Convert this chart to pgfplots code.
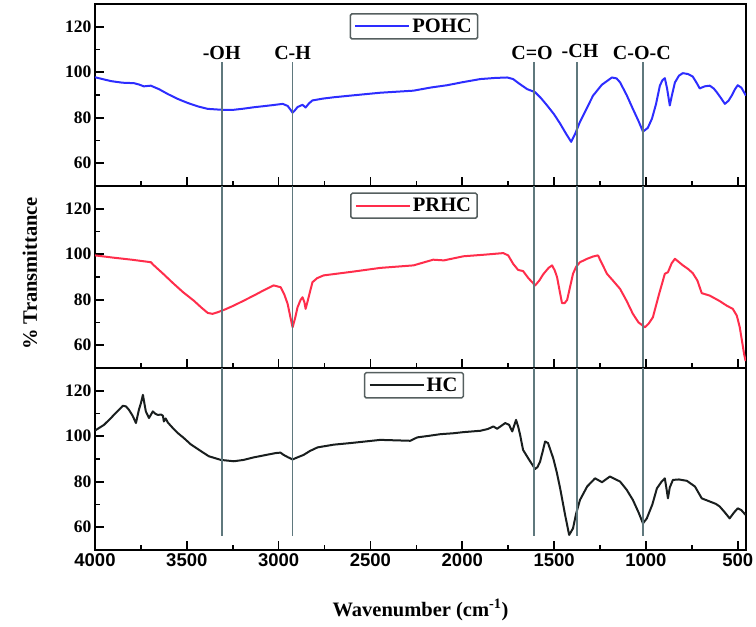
\documentclass[border=0pt]{standalone}
\usepackage{fontspec}
\setmainfont{Liberation Serif}
\newfontfamily\tsans{Liberation Sans}
\usepackage{pgfplots}
\pgfplotsset{compat=1.18}
\usepgfplotslibrary{groupplots}

\definecolor{vgray}{RGB}{95,120,125}
\definecolor{legbd}{RGB}{85,95,95}
\definecolor{pohc}{RGB}{45,45,255}
\definecolor{prhc}{RGB}{255,45,75}
\definecolor{hc}{RGB}{25,30,30}

\pgfplotsset{
  vl/.style={vgray, line width=1.8pt, forget plot},
  curve/.style={line width=2pt, line join=round},
}

\begin{document}
\begin{tikzpicture}
\begin{groupplot}[
  group style={group name=G, group size=1 by 3, vertical sep=0pt,
    xticklabels at=edge bottom},
  scale only axis, width=651pt, height=182pt,
  xmin=455, xmax=4000, x dir=reverse,
  ymin=50, ymax=130,
  xtick={500,1000,...,4000}, minor x tick num=1,
  ytick={60,80,100,120}, minor y tick num=1,
  xtick pos=left, ytick pos=left, tick align=inside,
  major tick length=9pt, minor tick length=5pt,
  axis line style={line width=2pt},
  every tick/.style={black, line width=1.6pt},
  /pgf/number format/1000 sep={},
  /pgf/number format/assume math mode=true,
  yticklabel style={font=\bfseries\fontsize{17.5}{17.5}\selectfont},
  xticklabel style={font=\tsans\bfseries\fontsize{18.5}{18.5}\selectfont},
  legend image code/.code={\draw[#1] (0pt,0pt) -- (54pt,0pt);},
  legend style={anchor=north, draw=legbd, line width=1.5pt,
    rounded corners=1.5pt, inner xsep=4pt, inner ysep=3pt,
    font=\bfseries\fontsize{20.5}{20.5}\selectfont},
]
% ---- POHC ----
\nextgroupplot[legend style={at={(0.49,0.95)}}]
\addplot[curve, pohc] coordinates {
(4000,97.8) (3913,96.1) (3850,95.4) (3788,95.2) (3760,94.6) (3734,93.8)
(3696,94.1) (3650,92.5) (3603,90.4) (3550,88.3) (3495,86.5) (3440,85)
(3386,83.9) (3310,83.5) (3244,83.5) (3190,84) (3136,84.6) (3080,85.1)
(3027,85.6) (2978,86.1) (2951,85.2) (2935,83.5) (2924,82.2) (2910,83.4)
(2897,84.7) (2870,85.7) (2853,84.5) (2835,86.3) (2816,87.6) (2760,88.4)
(2700,89) (2600,89.8) (2446,91) (2266,91.9) (2170,93.3) (2082,94.3)
(2000,95.6) (1902,97) (1820,97.5) (1755,97.7) (1723,97) (1690,95)
(1647,92.6) (1603,91.2) (1570,88.5) (1538,85.4) (1500,81.5) (1467,77.4)
(1435,73) (1407,69.4) (1385,73) (1359,78.2) (1320,84.5) (1288,89.7)
(1240,94.5) (1185,97.7) (1160,97.3) (1141,95.6) (1105,90) (1071,83.9)
(1040,78.5) (1016,73.9) (990,75.5) (967,79.6) (945,86) (924,94.1)
(910,96.5) (897,97.4) (885,93) (870,85.4) (858,90) (842,95.5)
(820,98.5) (799,99.6) (770,99.2) (745,98.1) (725,95.5) (707,92.9)
(680,93.8) (652,94.1) (630,92.8) (614,91.2) (590,88.5) (570,86.1)
(550,87.5) (533,89.7) (515,92.5) (500,94.3) (480,93.2) (455,89.7)
};
\addlegendentry{POHC}
\addplot[vl] coordinates {(3310,104.3) (3310,50)};
\addplot[vl] coordinates {(2924,104.3) (2924,50)};
\addplot[vl] coordinates {(1609,104.3) (1609,50)};
\addplot[vl] coordinates {(1375,104.3) (1375,50)};
\addplot[vl] coordinates {(1016,104.3) (1016,50)};
\begin{scope}[every node/.style={font=\bfseries\fontsize{20}{20}\selectfont, anchor=center}]
\node at (axis cs:3310,108.6) {-OH};
\node at (axis cs:2924,108.6) {C-H};
\node at (axis cs:1620,108.6) {C=O};
\node at (axis cs:1359,109.2) {-CH};
\node at (axis cs:1022,108.6) {C-O-C};
\end{scope}

% ---- PRHC ----
\nextgroupplot[legend style={at={(0.49,0.965)}},
  ylabel={\% Transmittance},
  ylabel style={at={(axis description cs:-0.1,0.52)}, anchor=center,
    font=\bfseries\fontsize{20.5}{20.5}\selectfont}]
\addplot[curve, prhc] coordinates {
(4000,99.5) (3900,98.5) (3800,97.6) (3696,96.5) (3679,95.1) (3630,91.5)
(3571,87) (3520,83.3) (3462,79.6) (3420,76.5) (3386,74.2) (3360,73.8)
(3332,74.5) (3290,75.8) (3245,77.4) (3190,79.6) (3136,81.8) (3080,84.2)
(3027,86.3) (2989,85.5) (2970,82.5) (2951,78.2) (2935,72) (2924,67.9)
(2910,72) (2897,76.7) (2880,80) (2870,81.1) (2860,79) (2853,76)
(2840,80) (2816,87.7) (2790,89.5) (2755,90.7) (2600,92.3) (2446,94)
(2266,95.1) (2158,97.6) (2100,97.3) (1994,99.1) (1880,99.8) (1777,100.5)
(1750,99.5) (1723,95.8) (1696,93.1) (1669,92.6) (1640,89.5) (1603,86.3)
(1580,88.5) (1560,91.1) (1530,94) (1511,95.1) (1497,93) (1484,90)
(1470,84) (1457,78.5) (1443,78.5) (1429,79.9) (1412,86) (1397,91.4)
(1380,94.5) (1359,96.5) (1320,98) (1288,99) (1261,99.5) (1240,96)
(1212,91.4) (1175,88) (1141,84.8) (1105,79.5) (1071,73.8) (1040,70)
(1005,67.9) (985,69.5) (962,72.3) (930,82) (897,91.4) (880,92.1)
(860,96) (842,98) (800,95.2) (770,93.5) (745,91.7) (720,88.5)
(696,82.9) (652,81.8) (600,79.5) (560,77.4) (527,76) (505,73)
(489,67.9) (475,61) (465,56) (457,53)
};
\addlegendentry{PRHC}
\addplot[vl] coordinates {(3310,130) (3310,50)};
\addplot[vl] coordinates {(2924,130) (2924,50)};
\addplot[vl] coordinates {(1609,130) (1609,50)};
\addplot[vl] coordinates {(1375,130) (1375,50)};
\addplot[vl] coordinates {(1016,130) (1016,50)};

% ---- HC ----
\nextgroupplot[legend style={at={(0.49,0.978)}},
  xlabel={Wavenumber (cm\textsuperscript{-1})},
  xlabel style={at={(axis description cs:0.5,-0.33)}, anchor=center,
    font=\bfseries\fontsize{20.5}{20.5}\selectfont}]
\addplot[curve, hc] coordinates {
(4000,102.5) (3951,105) (3913,108) (3897,109.4) (3848,113.4) (3831,113.1)
(3815,111.6) (3795,109) (3777,105.8) (3761,111.6) (3750,114.5) (3739,118.2)
(3730,114) (3723,110.9) (3706,108) (3685,110.9) (3670,109.8) (3658,109.4)
(3640,109.5) (3630,109) (3625,106.5) (3615,107.8) (3603,106) (3575,103.5)
(3549,101.4) (3516,99.2) (3478,96.4) (3424,93.5) (3380,91.2) (3315,89.6)
(3244,89) (3190,89.6) (3136,90.7) (3080,91.6) (3016,92.6) (2990,92.8)
(2973,91.8) (2950,90.8) (2924,89.8) (2895,90.8) (2864,91.8) (2830,93.5)
(2788,95.1) (2700,96.3) (2609,97) (2446,98.4) (2283,98) (2245,99.5)
(2180,100.2) (2120,100.9) (2050,101.3) (1994,101.8) (1902,102.4) (1860,103.2)
(1831,104.3) (1810,103.3) (1766,105.8) (1745,105) (1728,102.1) (1707,107.2)
(1695,104) (1685,100.6) (1669,94) (1650,91.5) (1630,88.9) (1603,85.6)
(1590,86.5) (1576,88.9) (1560,94) (1549,97.7) (1533,97) (1505,90.4)
(1485,84) (1467,77.1) (1440,65.4) (1418,56.6) (1397,59.5) (1380,66)
(1359,72) (1320,77.9) (1277,81.5) (1239,79.8) (1196,82.3) (1141,80.1)
(1105,76.5) (1071,72) (1040,66.5) (1016,61.7) (995,63.9) (965,70)
(940,77.1) (915,80) (897,81.5) (888,77) (880,72.7) (870,77.5)
(853,80.8) (820,81) (777,80.4) (733,77.9) (696,72.7) (652,71.3)
(620,70.3) (598,69.1) (570,66.5) (544,63.9) (520,66.5) (500,68.3)
(480,67.5) (457,65.4)
};
\addlegendentry{HC}
\addplot[vl] coordinates {(3310,130) (3310,56)};
\addplot[vl] coordinates {(2924,130) (2924,56)};
\addplot[vl] coordinates {(1609,130) (1609,56)};
\addplot[vl] coordinates {(1375,130) (1375,56)};
\addplot[vl] coordinates {(1016,130) (1016,56)};
\end{groupplot}
\pgfresetboundingbox
\path[use as bounding box] ([shift={(-95pt,4pt)}]G c1r1.north west)
  rectangle ([shift={(10pt,-77pt)}]G c1r3.south east);
\end{tikzpicture}
\end{document}
